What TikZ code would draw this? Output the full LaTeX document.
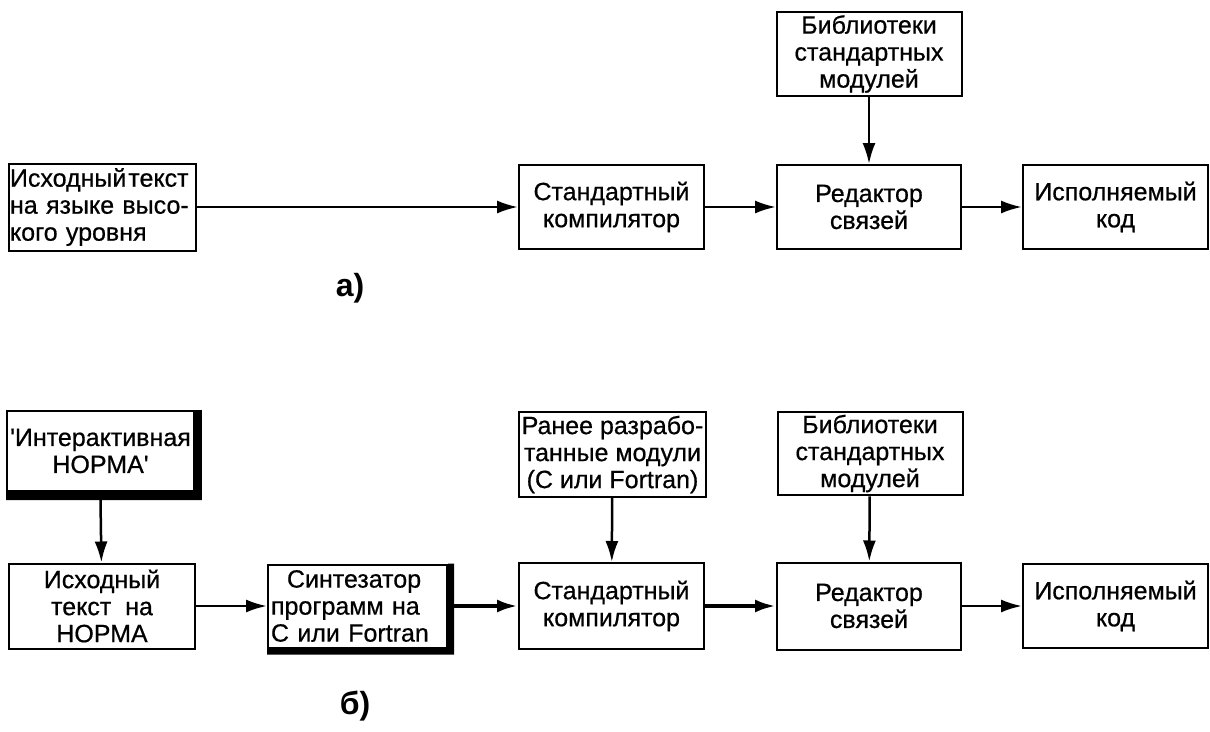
\documentclass[tikz,border=0pt]{standalone}
\usepackage{fontspec}
\setmainfont{Liberation Sans}
\newfontfamily\boxfont{Liberation Sans}[FakeBold=0.6]
\usetikzlibrary{arrows.meta}

\tikzset{
	blk/.style={draw, line width=2pt, minimum width=185pt, minimum height=84pt, inner sep=3pt, align=center, font=\boxfont\fontsize{25}{27}\selectfont},
	arr/.style={line width=2.5pt, -{Latex[length=21pt,width=13pt]}},
	thickarr/.style={arr, line width=4pt},
	sublabel/.style={font=\fontsize{32}{32}\selectfont\bfseries}
}

\begin{document}
\begin{tikzpicture}[x=1pt,y=-1pt]
	\useasboundingbox (0,0) rectangle (1210,731);

	% a)
	\node (srcA) at (102.5,207) [blk, minimum width=187pt, minimum height=87pt, inner xsep=1pt, text width=185pt, align=left] {Исходный\hspace{2pt}текст\\на языке высо-\\кого уровня};
	\node (compA) at (611.5,207) [blk] {Стандартный\\компилятор};
	\node (linkA) at (869,207) [blk, minimum width=184pt] {Редактор\\связей};
	\node (libA) at (869,54) [blk] {Библиотеки\\стандартных\\модулей};
	\node (exeA) at (1115.5,207) [blk] {Исполняемый\\код};
	\node (labA) at (350,288) [sublabel] {а)};

	\draw[arr] (srcA) -- (compA);
	\draw[arr] (compA) -- (linkA);
	\draw[arr] (linkA) -- (exeA);
	\draw[arr] (libA) -- (linkA);

	% b)
	\node (interB) at (100.5,451) [blk, minimum width=183pt, minimum height=80pt] {\textquotesingle Интерактивная\\НОРМА\textquotesingle};
	\fill (interB.south west) -- (interB.south east) -- (interB.north east) -- ([xshift=7pt]interB.north east) -- ([xshift=7pt,yshift=-8pt]interB.south east) -- ([yshift=-8pt]interB.south west) -- cycle;
	\node (srcB) at (102,606) [blk, minimum width=186pt, minimum height=85pt] {Исходный\\текст\ \ на\\НОРМА};
	\node (synB) at (357.5,606) [blk, minimum width=179pt, minimum height=83pt, text width=173pt, align=left] {\hspace{16pt}Синтезатор\\программ на\\С или Fortran};
	\fill (synB.south west) -- (synB.south east) -- (synB.north east) -- ([xshift=6pt]synB.north east) -- ([xshift=6pt,yshift=-6pt]synB.south east) -- ([yshift=-6pt]synB.south west) -- cycle;
	\node (prevB) at (612.5,454.5) [blk, minimum width=187pt, minimum height=85pt] {Ранее разрабо-\\танные модули\\(С или Fortran)};
	\node (libB) at (870,453.5) [blk, minimum height=83pt] {Библиотеки\\стандартных\\модулей};
	\node (compB) at (611.5,606) [blk, minimum height=86pt] {Стандартный\\компилятор};
	\node (linkB) at (869,606) [blk, minimum width=184pt, minimum height=87pt] {Редактор\\связей};
	\node (exeB) at (1115.5,606) [blk] {Исполняемый\\код};
	\node (labB) at (355,706) [sublabel] {б)};

	\draw[arr] ([yshift=-8pt]interB.south) -- (srcB);
	\draw[arr] (srcB) -- (synB);
	\draw[thickarr] (synB) -- (compB);
	\draw[thickarr] (compB) -- (linkB);
	\draw[arr] (linkB) -- (exeB);
	\draw[arr] (prevB) -- (compB);
	\draw[arr] (libB) -- (linkB);
\end{tikzpicture}
\end{document}
